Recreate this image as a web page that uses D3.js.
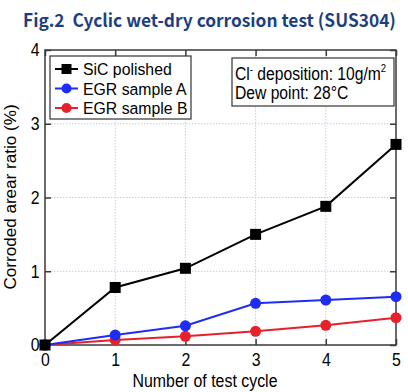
<!DOCTYPE html>
<html><head><meta charset="utf-8">
<script src="https://cdn.jsdelivr.net/npm/d3@7"></script>
<style>body{margin:0;background:#fff}svg{display:block}text{font-family:"Liberation Sans",Arial,sans-serif}</style>
</head><body><svg id="c" width="408" height="392"></svg>
<script>
const cycles = [0, 1, 2, 3, 4, 5];
const sicPolished = [0, 0.78, 1.04, 1.50, 1.88, 2.72];
const egrA = [0, 0.135, 0.26, 0.565, 0.61, 0.655];
const egrB = [0, 0.068, 0.118, 0.185, 0.267, 0.37];
const xTicks = [0, 1, 2, 3, 4, 5];
const yTicks = [0, 1, 2, 3, 4];
const seriesNames = ["SiC polished", "EGR sample A", "EGR sample B"];

const svg = d3.select("#c");
const L = 45, R = 396, T = 50, B = 345;
const x = d3.scaleLinear().domain([0, 5]).range([L, R]);
const y = d3.scaleLinear().domain([0, 4]).range([B, T]);

function label(parent, px, py, size, sx, str, anchor) {
  return parent.append("text")
    .attr("transform", `translate(${px},${py}) scale(${sx},1)`)
    .attr("font-size", size).attr("text-anchor", anchor || "start").text(str);
}

const title = svg.append("text")
  .attr("fill", "#1d3f7f").attr("font-weight", "bold").attr("font-size", 18)
  .style("font-family", '"Noto Sans CJK JP","DejaVu Sans",sans-serif')
  .style("white-space", "pre")
  .text("Fig.2  Cyclic wet-dry corrosion test (SUS304)");
const tw = title.node().getComputedTextLength();
title.attr("transform", `translate(23,27) scale(${Math.min(1, 373 / tw)},1)`);

// grid
const g = svg.append("g");
g.selectAll(".gx").data(xTicks.slice(1, -1)).enter().append("line")
  .attr("x1", d => x(d)).attr("x2", d => x(d)).attr("y1", T).attr("y2", B)
  .attr("stroke", "#c8c8f0").attr("stroke-dasharray", "1.5,1.5");
g.selectAll(".gy").data(yTicks.slice(1, -1)).enter().append("line")
  .attr("y1", d => y(d)).attr("y2", d => y(d)).attr("x1", L).attr("x2", R)
  .attr("stroke", "#c8c8f0").attr("stroke-dasharray", "1.5,1.5");

// frame
svg.append("rect").attr("x", L).attr("y", T).attr("width", R - L).attr("height", B - T)
  .attr("fill", "none").attr("stroke", "#3a3a3a").attr("stroke-width", 1.5);

// axes with inward ticks
svg.append("g").attr("transform", `translate(0,${B})`)
  .call(d3.axisBottom(x).tickValues(xTicks).tickSize(-6).tickPadding(8).tickFormat(d3.format("d")));
svg.append("g").attr("class", "yax").attr("transform", `translate(${L},0)`)
  .call(d3.axisLeft(y).tickValues(yTicks).tickSize(-6).tickPadding(5).tickFormat(d3.format("d")));
svg.append("g").attr("transform", `translate(0,${T})`)
  .call(d3.axisTop(x).tickValues(xTicks).tickSize(-6).tickFormat(""));
svg.append("g").attr("transform", `translate(${R},0)`)
  .call(d3.axisRight(y).tickValues(yTicks).tickSize(-6).tickFormat(""));
svg.selectAll(".domain").remove();
svg.selectAll(".tick line").attr("stroke", "#3a3a3a").attr("stroke-width", 1.5);
svg.selectAll(".tick text").attr("font-size", 18).attr("fill", "#000")
  .attr("transform", "scale(0.88,1)")
  .style("font-family", '"Liberation Sans",Arial,sans-serif');
svg.selectAll(".yax .tick text").attr("transform", "translate(-1,0) scale(0.88,1)");

label(svg, 205, 387, 18.5, 0.86, "Number of test cycle", "middle");
svg.append("text").attr("transform", `translate(16,197) rotate(-90) scale(0.95,0.88)`)
  .attr("text-anchor", "middle").attr("font-size", 18).text("Corroded arear ratio (%)");

const colors = ["#000000", "#1f2cf5", "#e8202a"];
const data = [sicPolished, egrA, egrB];
const line = d3.line().x((d, i) => x(cycles[i])).y(d => y(d));
[2, 1, 0].forEach(k => {
  svg.append("path").datum(data[k]).attr("d", line).attr("fill", "none")
    .attr("stroke", colors[k]).attr("stroke-width", 2);
  const m = svg.append("g");
  data[k].forEach((v, i) => {
    if (k === 0) m.append("rect").attr("x", x(cycles[i]) - 5.5).attr("y", y(v) - 5.5)
      .attr("width", 11).attr("height", 11).attr("fill", colors[k]);
    else m.append("circle").attr("cx", x(cycles[i])).attr("cy", y(v)).attr("r", 5.5).attr("fill", colors[k]);
  });
});

// legend
const lg = svg.append("g");
lg.append("rect").attr("x", 50).attr("y", 56).attr("width", 141).attr("height", 63)
  .attr("fill", "#fff").attr("stroke", "#333").attr("stroke-width", 1.2);
seriesNames.forEach((n, k) => {
  const yy = 69 + k * 19.5;
  lg.append("line").attr("x1", 55).attr("x2", 78).attr("y1", yy).attr("y2", yy)
    .attr("stroke", colors[k]).attr("stroke-width", 2);
  if (k === 0) lg.append("rect").attr("x", 61.5).attr("y", yy - 5).attr("width", 10).attr("height", 10).attr("fill", colors[k]);
  else lg.append("circle").attr("cx", 66.5).attr("cy", yy).attr("r", 5).attr("fill", colors[k]);
  label(lg, 83, yy + 6, 17, 0.93, n);
});

// annotation
const an = svg.append("g");
an.append("rect").attr("x", 232).attr("y", 58).attr("width", 162).attr("height", 48)
  .attr("fill", "#fff").attr("stroke", "#333").attr("stroke-width", 1.2);
const t1 = label(an, 235, 80, 18, 0.87, "");
t1.append("tspan").text("Cl");
t1.append("tspan").attr("dy", -7).attr("font-size", 11).text("-");
t1.append("tspan").attr("dy", 7).text(" deposition: 10g/m");
t1.append("tspan").attr("dy", -8).attr("font-size", 11).text("2");
label(an, 235, 99, 18, 0.87, "Dew point: 28°C");
</script></body></html>
